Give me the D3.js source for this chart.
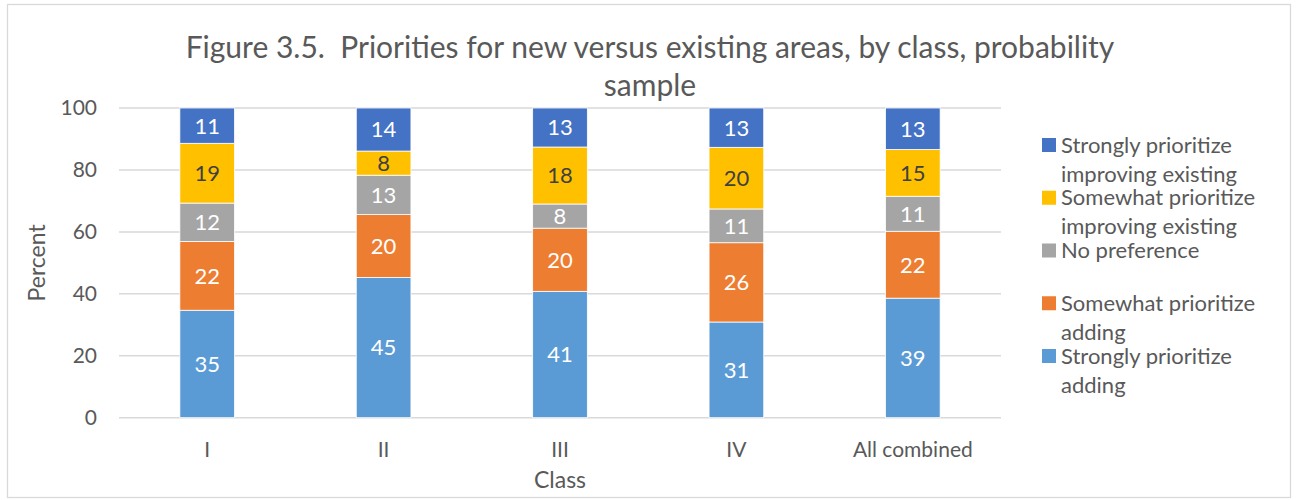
<!DOCTYPE html>
<html>
<head>
<meta charset="utf-8">
<script src="https://cdn.jsdelivr.net/npm/d3@7/dist/d3.min.js"></script>
<style>
  body { margin: 0; background: #fff; }
  svg text { font-family: Lato, "Open Sans", sans-serif; }
</style>
</head>
<body>
<svg id="chart" width="1296" height="500"></svg>
<script>
// chart data
var classes = ["I", "II", "III", "IV", "All combined"];
var seriesNames = [
  "Strongly prioritize adding",
  "Somewhat prioritize adding",
  "No preference",
  "Somewhat prioritize improving existing",
  "Strongly prioritize improving existing"
];
var strongAdd     = [34.7, 45.3, 40.8, 30.9, 38.6];
var someAdd       = [22.2, 20.3, 20.4, 25.6, 21.6];
var noPref        = [12.4, 12.7, 7.8, 10.9, 11.3];
var someImprove   = [19.3, 7.8, 18.4, 19.9, 15.1];
var strongImprove = [11.4, 13.9, 12.6, 12.7, 13.4];
var yTicks = [0, 20, 40, 60, 80, 100];
var titleLines = ["Figure 3.5.  Priorities for new versus existing areas, by class, probability", "sample"];

var colors = ["#5B9BD5", "#ED7D31", "#A5A5A5", "#FFC000", "#4472C4"];
var labelColors = ["#fff", "#fff", "#fff", "#404040", "#fff"];
// legend text broken over lines like the original
var legendLines = [
  ["Strongly prioritize", "adding"],
  ["Somewhat prioritize", "adding"],
  ["No preference"],
  ["Somewhat prioritize", "improving existing"],
  ["Strongly prioritize", "improving existing"]
];

var allSeries = [strongAdd, someAdd, noPref, someImprove, strongImprove];
var rows = classes.map(function(c, i) {
  var r = { cls: c };
  seriesNames.forEach(function(s, k) { r[s] = allSeries[k][i]; });
  return r;
});

var svg = d3.select("#chart");
var margin = { left: 119, right: 295, top: 108, bottom: 82.3 };
var width = 1296 - margin.left - margin.right;
var height = 500 - margin.top - margin.bottom;

// outer frame
svg.append("rect")
  .attr("x", 7.5).attr("y", 4.5)
  .attr("width", 1283).attr("height", 493)
  .attr("fill", "#fff").attr("stroke", "#D9D9D9").attr("stroke-width", 1.3);

// title (keeps the double space after the figure number)
svg.append("text")
  .attr("x", 650).attr("y", 47)
  .attr("text-anchor", "middle")
  .attr("fill", "#595959")
  .style("font-size", "30px")
  .style("white-space", "pre")
  .selectAll("tspan")
  .data(titleLines)
  .enter().append("tspan")
    .attr("x", 650)
    .attr("dy", function(d, i) { return i === 0 ? "0.35em" : 38; })
    .text(function(d) { return d; });

var g = svg.append("g").attr("transform", "translate(" + margin.left + "," + margin.top + ")");

var x = d3.scaleBand().domain(classes).range([0, width])
  .paddingInner(0.69).paddingOuter(0.345);
var y = d3.scaleLinear().domain([0, 100]).range([height, 0]);

// gridlines
g.selectAll("line.grid")
  .data(yTicks)
  .enter().append("line")
    .attr("class", "grid")
    .attr("x1", 0).attr("x2", width)
    .attr("y1", function(d) { return y(d); })
    .attr("y2", function(d) { return y(d); })
    .attr("stroke", "#D9D9D9").attr("stroke-width", 1.5);

// y axis labels
var yAxis = d3.axisLeft(y).tickValues(yTicks).tickSize(0).tickPadding(22);
g.append("g").call(yAxis)
  .call(function(a) { a.select(".domain").remove(); })
  .selectAll("text")
    .attr("fill", "#595959")
    .style("font-size", "21px");

// x axis labels
var xAxis = d3.axisBottom(x).tickSize(0).tickPadding(32);
g.append("g").attr("transform", "translate(0," + height + ")").call(xAxis)
  .call(function(a) { a.select(".domain").remove(); })
  .selectAll("text")
    .attr("fill", "#595959")
    .attr("dy", "0.35em")
    .style("font-size", "21px");

// stacked bars
var stack = d3.stack().keys(seriesNames);
var layers = stack(rows);

var layer = g.selectAll("g.layer")
  .data(layers)
  .enter().append("g")
    .attr("class", "layer");

layer.selectAll("rect")
  .data(function(d) { return d; })
  .enter().append("rect")
    .attr("x", function(d) { return x(d.data.cls); })
    .attr("width", x.bandwidth())
    .attr("y", function(d) { return y(d[1]); })
    .attr("height", function(d) { return y(d[0]) - y(d[1]); })
    .attr("fill", function(d, i, nodes) { return colors[d3.select(nodes[i].parentNode).datum().index]; })
    .attr("stroke", "#fff").attr("stroke-width", 0.8);

// data labels
layer.selectAll("text")
  .data(function(d) { return d; })
  .enter().append("text")
    .attr("x", function(d) { return x(d.data.cls) + x.bandwidth() / 2; })
    .attr("y", function(d) { return (y(d[0]) + y(d[1])) / 2; })
    .attr("dy", "0.36em")
    .attr("text-anchor", "middle")
    .attr("fill", function(d, i, nodes) { return labelColors[d3.select(nodes[i].parentNode).datum().index]; })
    .style("font-size", "22px")
    .text(function(d) { return Math.round(d[1] - d[0]); });

// axis titles
svg.append("text")
  .attr("transform", "translate(37," + (margin.top + height / 2) + ") rotate(-90)")
  .attr("text-anchor", "middle").attr("dy", "0.35em")
  .attr("fill", "#595959")
  .style("font-size", "23px")
  .text("Percent");

svg.append("text")
  .attr("x", margin.left + width / 2).attr("y", 480)
  .attr("text-anchor", "middle").attr("dy", "0.35em")
  .attr("fill", "#595959")
  .style("font-size", "23px")
  .text("Class");

// legend, drawn top to bottom in reverse series order
var legendOrder = d3.range(seriesNames.length).reverse();
var legend = svg.append("g").attr("transform", "translate(1042,145)");
var item = legend.selectAll("g.item")
  .data(legendOrder)
  .enter().append("g")
    .attr("class", "item")
    .attr("transform", function(d, i) { return "translate(0," + (i * 52.75) + ")"; });

item.append("rect")
  .attr("x", 0).attr("y", -7)
  .attr("width", 14).attr("height", 14)
  .attr("fill", function(d) { return colors[d]; });

item.append("text")
  .attr("fill", "#595959")
  .style("font-size", "22px")
  .selectAll("tspan")
  .data(function(d) { return legendLines[d]; })
  .enter().append("tspan")
    .attr("x", 19)
    .attr("y", function(d, i) { return i * 29; })
    .attr("dy", "0.35em")
    .text(function(d) { return d; });
</script>
</body>
</html>
